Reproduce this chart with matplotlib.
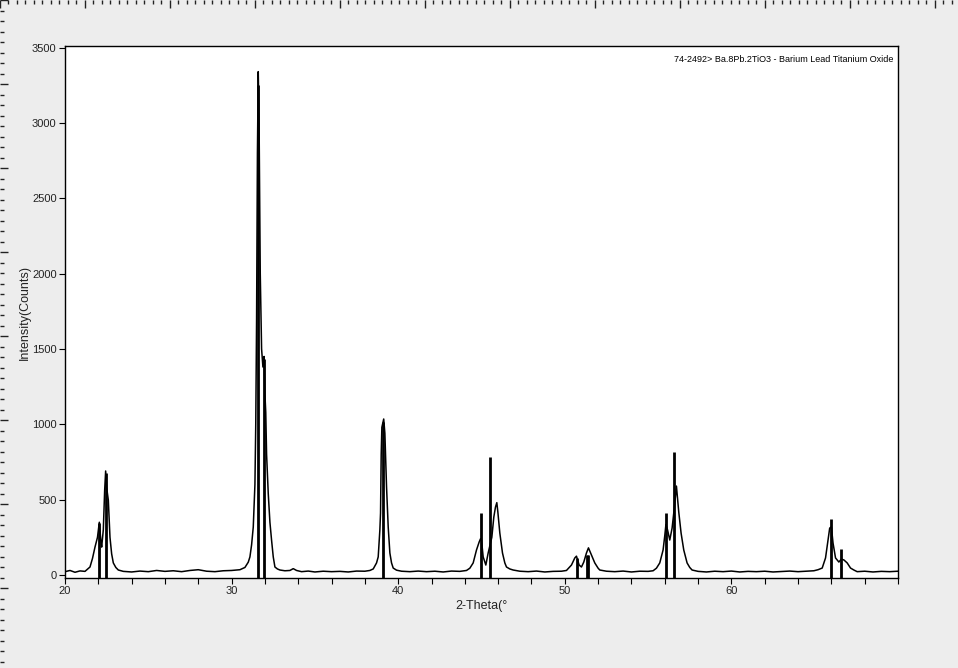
import matplotlib
matplotlib.use("Agg")
import matplotlib.pyplot as plt
from matplotlib.ticker import MultipleLocator, FixedLocator

plt.rcParams.update({"font.family": ["Liberation Sans", "DejaVu Sans"]})

two_theta = [20.0, 20.3, 20.6, 20.9, 21.2, 21.5, 21.65, 21.8, 21.95, 22.06, 22.15, 22.2,
             22.3, 22.38, 22.44, 22.5, 22.6, 22.7, 22.8, 22.9, 23.05, 23.2, 23.5,
             24.0, 24.5, 25.0, 25.5, 26.0, 26.5, 27.0, 27.5, 28.0, 28.5, 29.0, 29.5,
             30.0, 30.5, 30.8, 31.0, 31.1, 31.2, 31.3, 31.4, 31.45, 31.5, 31.55, 31.6,
             31.65, 31.72, 31.8, 31.88, 31.95, 32.0, 32.05, 32.1, 32.2, 32.3, 32.4,
             32.5, 32.6, 32.75, 32.9, 33.2, 33.5, 33.7, 33.9, 34.2, 34.6, 35.0, 35.5,
             36.0, 36.5, 37.0, 37.5, 38.0, 38.3, 38.5, 38.7, 38.8, 38.9, 38.94, 38.98,
             39.02, 39.08, 39.13, 39.2, 39.25, 39.3, 39.4, 39.5, 39.6, 39.7, 39.9,
             40.2, 40.7, 41.2, 41.7, 42.2, 42.7, 43.2, 43.7, 44.1, 44.3, 44.5, 44.7,
             44.86, 44.94, 45.0, 45.1, 45.26, 45.4, 45.54, 45.62, 45.74, 45.84, 45.92,
             45.98, 46.1, 46.26, 46.4, 46.5, 46.7, 46.9, 47.3, 47.8, 48.3, 48.8, 49.3,
             49.8, 50.1, 50.4, 50.6, 50.7, 50.86, 51.0, 51.14, 51.3, 51.42, 51.6, 51.8,
             52.0, 52.1, 52.5, 53.0, 53.5, 54.0, 54.5, 55.0, 55.3, 55.5, 55.7, 55.9,
             56.0, 56.07, 56.17, 56.3, 56.44, 56.58, 56.7, 56.84, 56.98, 57.14, 57.34,
             57.5, 57.64, 58.0, 58.5, 59.0, 59.5, 60.0, 60.5, 61.0, 61.5, 62.0, 62.5,
             63.0, 63.5, 64.0, 64.5, 64.95, 65.2, 65.45, 65.65, 65.8, 65.9, 66.0, 66.1,
             66.25, 66.45, 66.6, 66.75, 66.95, 67.15, 67.35, 67.55, 68.0, 68.5, 69.0,
             69.5, 70.0]
counts = [22, 30, 18, 27, 24, 53, 110, 185, 250, 350, 230, 185,
          300, 560, 690, 580, 497, 250, 140, 80, 50, 33, 24,
          20, 26, 22, 30, 24, 28, 22, 30, 35, 25, 22, 28,
          30, 35, 50, 85, 120, 200, 318, 600, 1000, 1700, 2800, 3340,
          3000, 2000, 1500, 1380, 1450, 1200, 1080, 800, 540, 350, 230,
          120, 53, 40, 33, 28, 30, 42, 30, 22, 26, 20, 25,
          22, 24, 20, 26, 25, 30, 40, 80, 120, 300, 411, 800,
          980, 1010, 1035, 940, 760, 585, 318, 146, 80, 46, 32,
          25, 22, 26, 22, 25, 20, 26, 24, 30, 45, 80, 166,
          219, 240, 230, 120, 66, 146, 212, 250, 385, 451, 480,
          420, 278, 146, 80, 53, 40, 33, 25, 22, 26, 20, 24,
          25, 30, 66, 113, 125, 66, 53, 86, 146, 180, 133, 80,
          45, 33, 25, 22, 26, 20, 25, 24, 28, 45, 80, 166,
          260, 335, 298, 232, 311, 451, 590, 418, 278, 166, 80,
          50, 33, 24, 20, 25, 22, 26, 20, 24, 22, 25, 20,
          23, 26, 22, 25, 28, 35, 46, 113, 232, 311, 320, 212,
          113, 86, 105, 100, 80, 46, 33, 22, 25, 20, 24,
          22, 25]

# reference card 74-2492 stick lines
ref_pos = [22.06, 22.44, 31.6, 31.97, 39.1, 44.95, 45.52, 50.75, 51.33, 51.40,
           56.07, 56.55, 65.95, 66.55]
ref_int = [345, 676, 3250, 1432, 1015, 411, 782, 110, 130, 130,
           411, 815, 371, 172]

x_labels = {20: "20", 30: "30", 40: "40", 50: "50", 60: "60"}

BG = "#ededed"
fig = plt.figure(figsize=(9.58, 6.68), dpi=100, facecolor=BG)

# ruler along the top and left edges of the window
ruler = fig.add_axes([0, 0, 1, 1])
ruler.set_xlim(0, 958)
ruler.set_ylim(668, 0)
ruler.patch.set_visible(False)
for s in ruler.spines.values():
    s.set_visible(False)
ruler.xaxis.set_major_locator(MultipleLocator(85))
ruler.xaxis.set_minor_locator(MultipleLocator(8.5))
ruler.yaxis.set_major_locator(MultipleLocator(84))
ruler.yaxis.set_minor_locator(MultipleLocator(10.5))
ruler.tick_params(which="both", direction="in", top=True, bottom=False, left=True,
                  right=False, labeltop=False, labelbottom=False, labelleft=False,
                  color="#222222", width=1)
ruler.tick_params(which="major", length=6)
ruler.tick_params(which="minor", length=3)

ax = fig.add_axes([65 / 958, 1 - 578 / 668, 833 / 958, 532 / 668])
ax.set_facecolor("white")
ax.set_xlim(20, 70)
ax.set_ylim(-20, 3510)

ax.vlines(ref_pos, -20, ref_int, color="black", lw=2.0, zorder=3)
ax.plot(two_theta, counts, color="black", lw=1.1, zorder=2)

ax.xaxis.set_major_locator(FixedLocator(list(range(20, 71, 2))))
ax.set_xticklabels([x_labels.get(v, "") for v in range(20, 71, 2)])
ax.set_yticks(range(0, 3501, 500))
ax.tick_params(direction="out", length=4, width=0.8, labelsize=8, labelcolor="#222222",
               pad=2)
for s in ax.spines.values():
    s.set_linewidth(1)
    s.set_color("black")

ax.set_xlabel("2-Theta(°", fontsize=9, color="#222222", labelpad=3)
ax.set_ylabel("Intensity(Counts)", fontsize=9, color="#222222", labelpad=1)

ax.text(0.994, 0.983, "74-2492> Ba.8Pb.2TiO3 - Barium Lead Titanium Oxide",
        transform=ax.transAxes, ha="right", va="top", fontsize=6.5, color="black")

fig.savefig("out.png", dpi=100, facecolor=BG)
